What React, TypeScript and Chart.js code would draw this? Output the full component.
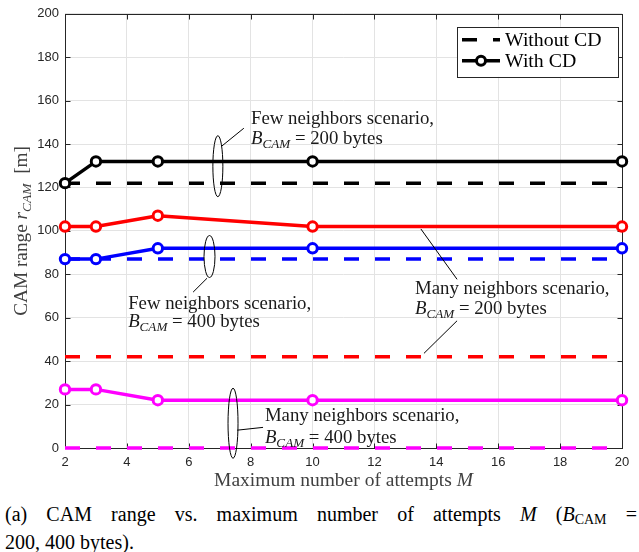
import React, { useEffect, useRef } from "react";
import { Chart, registerables } from "chart.js";

Chart.register(...registerables);

// ---------- data ----------
const attempts = [2, 3, 5, 10, 20];
const fewWithCD200 = [122, 132, 132, 132, 132];
const fewWithoutCD200 = [122, 122, 122, 122, 122];
const manyWithCD200 = [102, 102, 107, 102, 102];
const manyWithoutCD200 = [42, 42, 42, 42, 42];
const fewWithCD400 = [87, 87, 92, 92, 92];
const fewWithoutCD400 = [87, 87, 87, 87, 87];
const manyWithCD400 = [27, 27, 22, 22, 22];
const manyWithoutCD400 = [0, 0, 0, 0, 0];

const legendLabels = ["Without CD", "With CD"];
const xTitle = "Maximum number of attempts ";
const yTitle = "CAM range ";

// annotation anchors (data coordinates)
const ellipses = [
  { x: 6.94, y: 129.8, rx: 5, ry: 30.5 },
  { x: 6.67, y: 88.2, rx: 5.5, ry: 21 },
  { x: 7.43, y: 11.4, rx: 5, ry: 35 },
];
const leaderLines = [
  [7.07, 139.1, 7.78, 147.3],
  [6.59, 78.2, 6.14, 71.8],
  [13.5, 100.9, 14.67, 77.7],
  [14.67, 58.6, 13.6, 43.6],
  [7.56, 8.2, 8.4, 9.5],
];
const noteLabels = [
  { x: 8.01, y1: 149.1, y2: 140.0, head: "Few neighbors scenario,", size: "200" },
  { x: 4.04, y1: 64.1, y2: 55.9, head: "Few neighbors scenario,", size: "400" },
  { x: 13.31, y1: 70.9, y2: 61.8, head: "Many neighbors scenario,", size: "200" },
  { x: 8.46, y1: 12.3, y2: 2.3, head: "Many neighbors scenario,", size: "400" },
];

const SERIF = '"Liberation Serif", "Times New Roman", serif';
const SANS = '"Liberation Sans", Arial, sans-serif';
const AXIS = "#262626";

type Part = { t: string; i?: boolean; s?: boolean };

function richWidth(ctx: CanvasRenderingContext2D, parts: Part[], size: number) {
  let w = 0;
  for (const p of parts) {
    ctx.font = `${p.i ? "italic " : ""}${p.s ? size * 0.7 : size}px ${SERIF}`;
    w += ctx.measureText(p.t).width;
  }
  return w;
}

function drawRich(
  ctx: CanvasRenderingContext2D,
  parts: Part[],
  x: number,
  y: number,
  size: number,
  align: "left" | "center" = "left",
  color = "#000"
) {
  const w = richWidth(ctx, parts, size);
  let cx = align === "center" ? x - w / 2 : x;
  ctx.fillStyle = color;
  ctx.textAlign = "left";
  ctx.textBaseline = "alphabetic";
  for (const p of parts) {
    ctx.font = `${p.i ? "italic " : ""}${p.s ? size * 0.7 : size}px ${SERIF}`;
    ctx.fillText(p.t, cx, y + (p.s ? size * 0.22 : 0));
    cx += ctx.measureText(p.t).width;
  }
}

const decorPlugin = {
  id: "decor",
  beforeDatasetsDraw(chart: any) {
    const { ctx, chartArea: a, scales } = chart;
    ctx.save();
    ctx.strokeStyle = AXIS;
    ctx.lineWidth = 1;
    const L = Math.round(a.left) + 0.5;
    const R = Math.round(a.right) + 0.5;
    const T = Math.round(a.top) + 0.5;
    const B = Math.round(a.bottom) + 0.5;
    ctx.strokeRect(L, T, R - L, B - T);
    ctx.beginPath();
    for (const t of scales.x.ticks) {
      const px = Math.round(scales.x.getPixelForValue(t.value)) + 0.5;
      ctx.moveTo(px, B);
      ctx.lineTo(px, B - 5);
      ctx.moveTo(px, T);
      ctx.lineTo(px, T + 5);
    }
    for (const t of scales.y.ticks) {
      const py = Math.round(scales.y.getPixelForValue(t.value)) + 0.5;
      ctx.moveTo(L, py);
      ctx.lineTo(L + 5, py);
      ctx.moveTo(R, py);
      ctx.lineTo(R - 5, py);
    }
    ctx.stroke();
    ctx.restore();
  },
  afterDraw(chart: any) {
    const { ctx, chartArea: a, scales } = chart;
    const xs = scales.x;
    const ys = scales.y;
    ctx.save();
    // annotations
    ctx.strokeStyle = "#000";
    ctx.lineWidth = 1;
    for (const e of ellipses) {
      ctx.beginPath();
      ctx.ellipse(xs.getPixelForValue(e.x), ys.getPixelForValue(e.y), e.rx, e.ry, 0, 0, Math.PI * 2);
      ctx.stroke();
    }
    for (const l of leaderLines) {
      ctx.beginPath();
      ctx.moveTo(xs.getPixelForValue(l[0]), ys.getPixelForValue(l[1]));
      ctx.lineTo(xs.getPixelForValue(l[2]), ys.getPixelForValue(l[3]));
      ctx.stroke();
    }
    const fs = 18.8;
    for (const n of noteLabels) {
      const px = xs.getPixelForValue(n.x);
      drawRich(ctx, [{ t: n.head }], px, ys.getPixelForValue(n.y1), fs, "left", "#1a1a1a");
      drawRich(
        ctx,
        [{ t: "B", i: true }, { t: "CAM", i: true, s: true }, { t: " = " + n.size + " bytes" }],
        px,
        ys.getPixelForValue(n.y2),
        fs,
        "left",
        "#1a1a1a"
      );
    }

    // legend
    const bx = a.right - 165;
    const by = a.top + 13;
    const bw = 161;
    const bh = 50;
    ctx.fillStyle = "#fff";
    ctx.fillRect(bx, by, bw, bh);
    ctx.strokeStyle = AXIS;
    ctx.lineWidth = 1;
    ctx.strokeRect(Math.round(bx) + 0.5, Math.round(by) + 0.5, bw, bh);
    const r1 = by + 13;
    const r2 = by + 34;
    ctx.strokeStyle = "#000";
    ctx.lineWidth = 3.5;
    ctx.setLineDash([15, 16]);
    ctx.beginPath();
    ctx.moveTo(bx + 5, r1);
    ctx.lineTo(bx + 43, r1);
    ctx.stroke();
    ctx.setLineDash([]);
    ctx.beginPath();
    ctx.moveTo(bx + 5, r2);
    ctx.lineTo(bx + 43, r2);
    ctx.stroke();
    ctx.beginPath();
    ctx.arc(bx + 24, r2, 4.5, 0, Math.PI * 2);
    ctx.fillStyle = "#fff";
    ctx.fill();
    ctx.lineWidth = 3;
    ctx.stroke();
    drawRich(ctx, [{ t: legendLabels[0] }], bx + 48, r1 + 6, 19.8, "left", "#000");
    drawRich(ctx, [{ t: legendLabels[1] }], bx + 48, r2 + 6, 19.8, "left", "#000");

    // axis titles
    drawRich(
      ctx,
      [{ t: xTitle }, { t: "M", i: true }],
      (a.left + a.right) / 2,
      a.bottom + 38,
      19.5,
      "center",
      "#404040"
    );
    ctx.translate(a.left - 38, (a.top + a.bottom) / 2);
    ctx.rotate(-Math.PI / 2);
    drawRich(
      ctx,
      [{ t: yTitle }, { t: "r", i: true }, { t: "CAM", i: true, s: true }, { t: "  [m]" }],
      0,
      0,
      19.3,
      "center",
      "#404040"
    );
    ctx.restore();
  },
};

function ds(label: string, data: number[], color: string, dashed: boolean) {
  return {
    label,
    data: attempts.map((x, i) => ({ x, y: data[i] })),
    borderColor: color,
    backgroundColor: "#fff",
    borderWidth: 3.5,
    borderDash: dashed ? [15, 16] : [],
    pointRadius: dashed ? 0 : 4.7,
    pointBorderWidth: 3,
    pointBackgroundColor: "#fff",
    pointBorderColor: color,
    tension: 0,
    clip: false as any,
    order: dashed ? 1 : 0,
  };
}

export default function App() {
  const ref = useRef<HTMLCanvasElement | null>(null);
  useEffect(() => {
    if (!ref.current) return;
    const chart = new Chart(ref.current, {
      type: "line",
      data: {
        datasets: [
          ds("Few 200 with CD", fewWithCD200, "#000000", false),
          ds("Many 200 with CD", manyWithCD200, "#ff0000", false),
          ds("Few 400 with CD", fewWithCD400, "#0000ff", false),
          ds("Many 400 with CD", manyWithCD400, "#ff00ff", false),
          ds("Few 200 without CD", fewWithoutCD200, "#000000", true),
          ds("Many 200 without CD", manyWithoutCD200, "#ff0000", true),
          ds("Few 400 without CD", fewWithoutCD400, "#0000ff", true),
          ds("Many 400 without CD", manyWithoutCD400, "#ff00ff", true),
        ] as any,
      },
      options: {
        animation: false,
        responsive: false,
        devicePixelRatio: 1,
        layout: { padding: { top: 8, right: 17, left: 0, bottom: 0 } },
        plugins: { legend: { display: false }, tooltip: { enabled: false } },
        scales: {
          x: {
            type: "linear",
            min: 2,
            max: 20,
            ticks: { stepSize: 2, color: AXIS, font: { family: SANS, size: 13 }, padding: 7, maxRotation: 0 },
            grid: { color: "#e3e3e3", drawTicks: false },
            border: { display: false },
            afterFit: (s: any) => {
              s.height = 42;
            },
          },
          y: {
            min: 0,
            max: 200,
            ticks: { stepSize: 20, color: AXIS, font: { family: SANS, size: 13 }, padding: 6 },
            grid: { color: "#e3e3e3", drawTicks: false },
            border: { display: false },
            afterFit: (s: any) => {
              s.width = 65;
            },
          },
        },
      } as any,
      plugins: [decorPlugin],
    });
    return () => chart.destroy();
  }, []);

  const cap: React.CSSProperties = {
    fontFamily: SERIF,
    fontSize: 20,
    lineHeight: "22px",
    color: "#000",
    whiteSpace: "nowrap",
  };

  return (
    <div style={{ position: "absolute", left: 0, top: 0, width: 639, height: 552, background: "#fff" }}>
      <canvas ref={ref} width={639} height={490} style={{ display: "block", width: 639, height: 490 }} />
      <div style={{ position: "absolute", left: 5, top: 503, width: 632 }}>
        <div style={{ ...cap, textAlign: "justify", textAlignLast: "justify", whiteSpace: "normal" } as any}>
          (a) CAM range vs. maximum number of attempts <i>M</i> (<i>B</i>
          <sub style={{ fontSize: 14, verticalAlign: "-3px" }}>CAM</sub> =
        </div>
        <div style={cap}>200, 400 bytes).</div>
      </div>
    </div>
  );
}
